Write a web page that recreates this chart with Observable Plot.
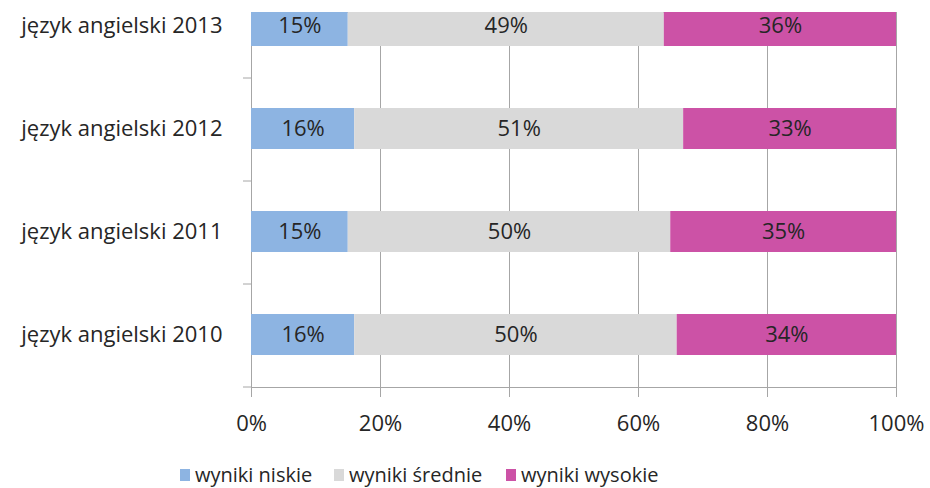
<!DOCTYPE html>
<html><head><meta charset="utf-8">
<script src="https://cdn.jsdelivr.net/npm/d3@7"></script>
<script src="https://cdn.jsdelivr.net/npm/@observablehq/plot@0.6"></script>
<style>
body{margin:0;background:#fff;font-family:"Open Sans",Lato,sans-serif;overflow:hidden;}
#legend{position:relative;height:36px;font-size:20px;color:#262626;}
.item{position:absolute;top:10px;display:flex;align-items:center;white-space:nowrap;line-height:25px;}
.sw{width:10px;height:12px;margin-right:5px;}
</style></head>
<body>
<div id="chart"></div>
<div id="legend"></div>
<script>
const categories = ["język angielski 2013","język angielski 2012","język angielski 2011","język angielski 2010"];
const seriesNames = ["wyniki niskie","wyniki średnie","wyniki wysokie"];
const niskie = [15,16,15,16];
const srednie = [49,51,50,50];
const wysokie = [36,33,35,34];
const colors = ["#8DB4E2","#D9D9D9","#CC52A6"];
const xTicks = [0,0.2,0.4,0.6,0.8,1];

const seriesValues = [niskie, srednie, wysokie];
const data = [];
categories.forEach((c,i)=>seriesNames.forEach((s,j)=>data.push({cat:c, series:s, value:seriesValues[j][i]/100})));

const W=930, H=452, mT=12, mB=65;
const font = "'Open Sans', Lato, sans-serif";
const fs = 22;
const chart = Plot.plot({
  width: W, height: H,
  marginLeft: 251, marginRight: 34, marginTop: mT, marginBottom: mB,
  style: {fontFamily: font, fontSize: fs + "px", color: "#262626", background: "#fff"},
  x: {domain: [0,1], ticks: xTicks, tickFormat: d3.format(".0%")},
  y: {domain: categories, range: [-28, H-mB], padding: 0},
  color: {domain: seriesNames, range: colors},
  marks: [
    Plot.frame({stroke: "#A6A6A6"}),
    Plot.ruleX(xTicks.slice(1), {stroke: "#A6A6A6"}),
    Plot.barX(data, Plot.stackX({x: "value", y: "cat", fill: "series", z: "series", insetTop: 31, insetBottom: 31, clip: true})),
    Plot.text(data, Plot.stackX({x: "value", y: "cat", z: "series", text: d => Math.round(d.value*100) + "%", fill: "#262626", fontSize: fs})),
    Plot.axisX({ticks: xTicks, tickFormat: d3.format(".0%"), tickSize: 10, tickPadding: 18, stroke: "#A6A6A6", fill: "#262626", fontSize: fs, label: null}),
    Plot.axisY({tickSize: 0, tickPadding: 29, fill: "#262626", fontSize: fs, label: null}),
    Plot.axisY({tickSize: 8, text: null, dy: 52, stroke: "#A6A6A6", label: null})
  ]
});
document.getElementById("chart").appendChild(chart);

const legend = document.getElementById("legend");
const lefts = [180, 334, 506];
seriesNames.forEach((s,i)=>{
  const it = document.createElement("div");
  it.className = "item";
  it.style.left = lefts[i] + "px";
  it.innerHTML = `<span class="sw" style="background:${colors[i]}"></span><span>${s}</span>`;
  legend.appendChild(it);
});
</script>
</body></html>
